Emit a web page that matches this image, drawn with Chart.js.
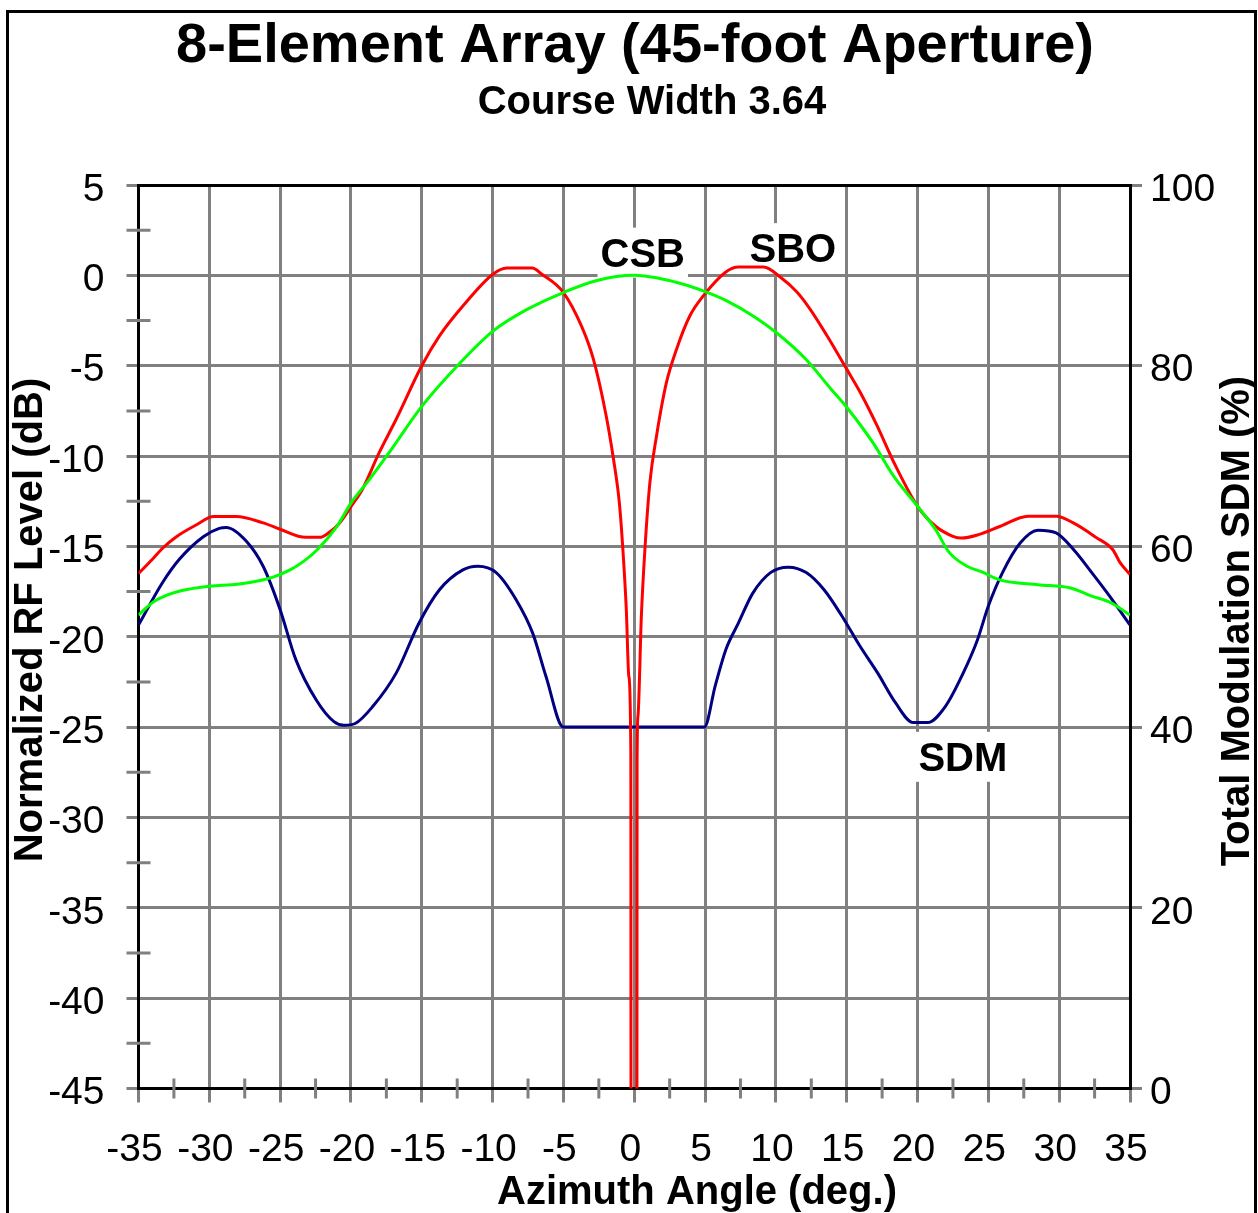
<!DOCTYPE html>
<html>
<head>
<meta charset="utf-8">
<title>8-Element Array (45-foot Aperture)</title>
<script src="https://cdn.jsdelivr.net/npm/chart.js@4.4.1/dist/chart.umd.min.js"></script>
<style>
  html, body { margin: 0; padding: 0; background: #fff; }
  canvas { display: block; }
</style>
</head>
<body>
<canvas id="chart" width="1258" height="1213"></canvas>
<script>
// values: azimuth in degrees, CSB/SBO in dB, SDM in percent
const csbAngle = [-35, -34, -33, -32, -30, -28, -26.5, -25.5, -24.3, -23.3, -22.4, -21, -20, -18.7, -17.3, -15, -12.3, -10, -7.6, -5, -2.7, 0,
  2.9, 5, 6.5, 8.5, 10, 12.1, 13.9, 15, 16.85, 18.3, 20, 21.3, 22.2, 23.5, 24.5, 25.8, 28.5, 30.8, 32.3, 33.6, 35];
const csbLevel = [-18.8, -18.1, -17.7, -17.45, -17.2, -17.1, -16.9, -16.7, -16.3, -15.8, -15.2, -13.9, -12.6, -11.3, -9.8, -7.25, -4.85, -3.1, -1.9, -0.95, -0.3, 0,
  -0.37, -0.9, -1.4, -2.3, -3.15, -4.63, -6.3, -7.3, -9.26, -11.1, -12.78, -14.1, -15.3, -16.1, -16.4, -16.85, -17.12, -17.3, -17.75, -18.1, -18.8];

const sboAngle = [-35, -34, -33.3, -32.3, -30.9, -29.7, -28.1, -26.2, -25, -23.2, -22.2, -21.5, -20.8, -20, -19.2, -18, -16.8, -15, -13.75, -12.1, -10, -9, -7.2, -6.5,
  -5, -3.7, -2.9, -2, -1.5, -1.05, -0.8, -0.56, -0.38, -0.24, -0.22, 0.18, 0.2, 0.26, 0.5, 0.75, 1.1, 1.57, 2.27, 2.98, 3.92, 4.86,
  6.47, 7.36, 9.14, 10.3, 11.5, 12.4, 13.6, 15, 15.96, 17.15, 18.34, 20, 21.3, 22.5, 23.1, 24.3, 25.8, 27.8, 29.8, 31, 32.6, 33.8, 34.3, 35];
const sboLevel = [-16.5, -15.7, -15.1, -14.45, -13.8, -13.35, -13.35, -13.7, -14.05, -14.5, -14.5, -14.2, -13.7, -12.8, -11.85, -9.8, -7.95, -5.0, -3.35, -1.7, 0.05, 0.4, 0.4, 0.05,
  -0.95, -2.85, -4.6, -7.7, -10.0, -12.6, -15.2, -18.5, -22.2, -26.5, -60, -60, -27, -24.4, -18.9, -15.2, -11.5, -8.9, -5.94, -4.1, -2.25, -1.15,
  0.19, 0.46, 0.46, -0.09, -0.93, -1.85, -3.33, -5.19, -6.48, -8.33, -10.37, -12.78, -13.9, -14.44, -14.54, -14.35, -13.9, -13.33, -13.33, -13.7, -14.5, -15.2, -15.9, -16.55];

const sdmAngle = [-35, -33.3, -32.1, -30.4, -29.3, -28.8, -27.4, -26.2, -25, -23.9, -22.45, -21.2, -20.5, -19.7, -18.45, -16.8, -15.2, -13.75, -12.1, -11.05, -9.75, -8.34, -7.17, -6.23,
  -5, 0, 4.95, 5.72, 6.47, 7.35, 8.36, 9.62, 10.88, 12.14, 13.4, 14.66, 15.92, 17.18, 18.44, 19.7, 20.7, 21.97, 23.23, 24.24, 25, 26, 27.26, 28.5, 29.78, 31.04, 32.3, 33.56, 35];
const sdmPercent = [51.3, 56.0, 58.6, 61.1, 62.0, 62.1, 60.6, 57.8, 53.0, 47.5, 43.0, 40.6, 40.2, 40.4, 42.3, 46.0, 51.5, 55.2, 57.4, 57.8, 57.1, 54.1, 50.4, 45.6,
  40, 40, 40, 44.6, 48.6, 51.5, 54.8, 57.1, 57.7, 57.1, 55.2, 52.3, 49.0, 46.0, 42.7, 40.5, 40.5, 42.3, 46.0, 49.7, 53.4, 57.1, 60.4, 61.8, 61.5, 59.6, 57.1, 54.5, 51.3];

const angleRange = [-35, 35];
const levelRange = [-45, 5];
const sdmRange = [0, 100];
const curveNames = ['CSB', 'SBO', 'SDM'];

const FONT = "'Liberation Sans', Arial, Helvetica, sans-serif";
const GRID = '#808080';

const toPoints = (xs, ys) => xs.map((x, i) => ({ x: x, y: ys[i] }));

// titles, frame, minor ticks and curve names
const decorations = {
  id: 'decorations',
  beforeDatasetsDraw(chart) {
    const { ctx, chartArea: a, scales: { x, y } } = chart;
    ctx.save();
    ctx.strokeStyle = GRID;
    ctx.lineWidth = 3;
    ctx.beginPath();
    for (let v = angleRange[0] + 2.5; v < angleRange[1]; v += 5) {
      const px = x.getPixelForValue(v);
      ctx.moveTo(px, a.bottom - 10);
      ctx.lineTo(px, a.bottom + 10);
    }
    for (let v = levelRange[1] - 2.5; v > levelRange[0]; v -= 5) {
      const py = y.getPixelForValue(v);
      ctx.moveTo(a.left - 12, py);
      ctx.lineTo(a.left + 12, py);
    }
    ctx.stroke();

    // curve names sit on white boxes that hide the grid behind them
    const spots = [[0.6, 1.2], [11.2, 1.45], [23.2, -26.7]];
    ctx.font = 'bold 40px ' + FONT;
    ctx.textAlign = 'center';
    ctx.textBaseline = 'middle';
    curveNames.forEach((name, i) => {
      const px = x.getPixelForValue(spots[i][0]);
      const py = y.getPixelForValue(spots[i][1]);
      const w = ctx.measureText(name).width + 6;
      ctx.fillStyle = '#fff';
      ctx.fillRect(px - w / 2, py - 26, w, 50);
      ctx.fillStyle = '#000';
      ctx.fillText(name, px, py + 2);
    });
    ctx.restore();
  },
  afterDraw(chart) {
    const { ctx } = chart;
    ctx.save();
    ctx.fillStyle = '#000';
    ctx.textAlign = 'center';
    ctx.textBaseline = 'middle';
    ctx.font = 'bold 56px ' + FONT;
    ctx.fillText('8-Element Array (45-foot Aperture)', 635, 47);
    ctx.font = 'bold 40px ' + FONT;
    ctx.fillText('Course Width 3.64', 652, 103);
    ctx.fillText('Azimuth Angle (deg.)', 697, 1193);
    ctx.save();
    ctx.translate(31, 620);
    ctx.rotate(-Math.PI / 2);
    ctx.fillText('Normalized RF Level (dB)', 0, 0);
    ctx.restore();
    ctx.save();
    ctx.translate(1238, 621);
    ctx.rotate(-Math.PI / 2);
    ctx.fillText('Total Modulation SDM (%)', 0, 0);
    ctx.restore();
    ctx.strokeStyle = '#000';
    ctx.lineWidth = 3;
    ctx.strokeRect(7.5, 11.5, 1248, 1220);
    ctx.restore();
  }
};

const tickFont = { family: FONT, size: 39 };

new Chart(document.getElementById('chart'), {
  type: 'line',
  data: {
    datasets: [
      { label: 'CSB', data: toPoints(csbAngle, csbLevel), borderColor: '#00ff00', yAxisID: 'y' },
      { label: 'SBO', data: toPoints(sboAngle, sboLevel), borderColor: '#ff0000', yAxisID: 'y' },
      { label: 'SDM', data: toPoints(sdmAngle, sdmPercent), borderColor: '#000080', yAxisID: 'y1' }
    ]
  },
  options: {
    responsive: false,
    animation: false,
    events: [],
    elements: {
      line: { borderWidth: 3, cubicInterpolationMode: 'monotone' },
      point: { radius: 0 }
    },
    layout: { padding: { top: 185, left: 0, right: 0, bottom: 0 } },
    plugins: { legend: { display: false }, tooltip: { enabled: false } },
    scales: {
      x: {
        type: 'linear',
        min: angleRange[0],
        max: angleRange[1],
        ticks: { stepSize: 5, font: tickFont, color: '#000', padding: 24, labelOffset: -4, maxRotation: 0 },
        grid: { color: GRID, lineWidth: 3, tickLength: 14 },
        border: { color: '#000', width: 3 },
        afterFit: (s) => { s.height = 124.5; }
      },
      y: {
        position: 'left',
        min: levelRange[0],
        max: levelRange[1],
        ticks: { stepSize: 5, font: tickFont, color: '#000', padding: 22, labelOffset: 5 },
        grid: {
          color: (c) => (c.tick && c.tick.value === levelRange[1] ? '#000' : GRID),
          tickColor: GRID,
          lineWidth: 3,
          tickLength: 12
        },
        border: { color: '#000', width: 3 },
        afterFit: (s) => { s.width = 138.5; }
      },
      y1: {
        position: 'right',
        min: sdmRange[0],
        max: sdmRange[1],
        ticks: { stepSize: 20, font: tickFont, color: '#000', padding: 8, labelOffset: 5 },
        grid: { drawOnChartArea: false, color: GRID, lineWidth: 3, tickLength: 12 },
        border: { color: '#000', width: 3 },
        afterFit: (s) => { s.width = 128; }
      }
    }
  },
  plugins: [decorations]
});
</script>
</body>
</html>
